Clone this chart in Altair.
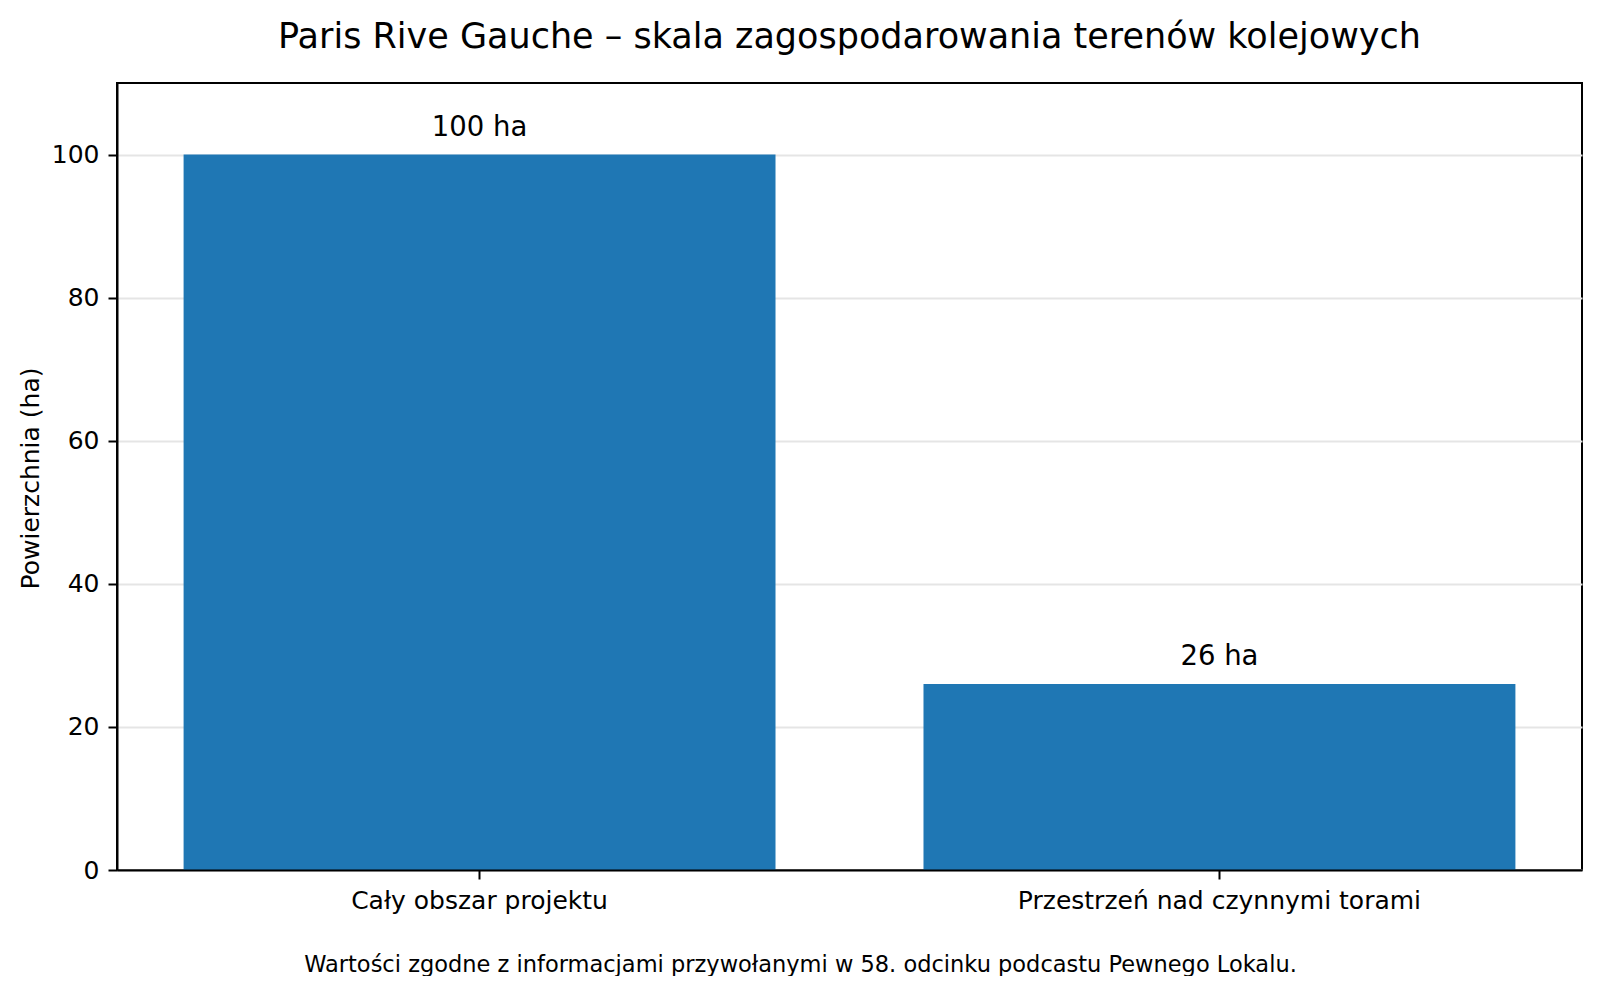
import altair as alt
import pandas as pd

categories = ["Cały obszar projektu", "Przestrzeń nad czynnymi torami"]
areas = [100, 26]
bar_labels = ["100 ha", "26 ha"]
y_ticks = [0, 20, 40, 60, 80, 100]

title_text = "Paris Rive Gauche – skala zagospodarowania terenów kolejowych"
y_title = "Powierzchnia (ha)"
footnote = "Wartości zgodne z informacjami przywołanymi w 58. odcinku podcastu Pewnego Lokalu."

df = pd.DataFrame({"cat": categories, "area": areas, "label": bar_labels})

FONT = "DejaVu Sans"
W, H = 1465, 787

x_enc = alt.X(
    "cat:N",
    sort=categories,
    scale=alt.Scale(paddingInner=0.2, paddingOuter=0.09),
    axis=alt.Axis(
        title=footnote,
        titleX=683,
        titleY=94,
        titleAlign="center",
        titleBaseline="middle",
        titleFontSize=22.5,
        titleFontWeight="normal",
        titleFont=FONT,
        titleColor="black",
        labelAngle=0,
        labelFontSize=25,
        labelFont=FONT,
        labelColor="black",
        labelPadding=9,
        labelLimit=0,
        tickSize=9,
        tickWidth=2,
        tickColor="black",
        domainColor="black",
        domainWidth=2,
        grid=False,
        zindex=1,
    ),
)

y_enc = alt.Y(
    "area:Q",
    scale=alt.Scale(domain=[0, 110], nice=False, zero=True),
    axis=alt.Axis(
        values=y_ticks,
        title=y_title,
        titleX=-87,
        titleY=395,
        titleAngle=270,
        titleAlign="center",
        titleBaseline="middle",
        titleFontSize=25,
        titleFontWeight="normal",
        titleFont=FONT,
        titleColor="black",
        labelFontSize=25,
        labelFont=FONT,
        labelColor="black",
        labelPadding=9,
        tickSize=9,
        tickWidth=2,
        tickColor="black",
        domainColor="black",
        domainWidth=2,
        grid=True,
        gridColor="#e5e5e5",
        gridWidth=2,
    ),
)

bars = alt.Chart(df).mark_bar(color="#1f77b4").encode(x=x_enc, y=y_enc)

texts = alt.Chart(df).mark_text(
    baseline="alphabetic", dy=-19, fontSize=27.5, font=FONT, color="black"
).encode(x=alt.X("cat:N", sort=categories), y=alt.Y("area:Q"), text="label:N")

chart = (
    alt.layer(bars, texts)
    .properties(
        width=W,
        height=H,
        background="white",
        title=alt.Title(
            title_text,
            fontSize=35,
            font=FONT,
            fontWeight="normal",
            color="black",
            anchor="middle",
            offset=28,
        ),
        padding={"left": 109, "top": 75, "right": 8, "bottom": 106},
        autosize=alt.AutoSizeParams(type="none"),
    )
    .configure_view(stroke="black", strokeWidth=2)
)

chart.save("out.html", embed_options={"renderer": "svg", "actions": False})
